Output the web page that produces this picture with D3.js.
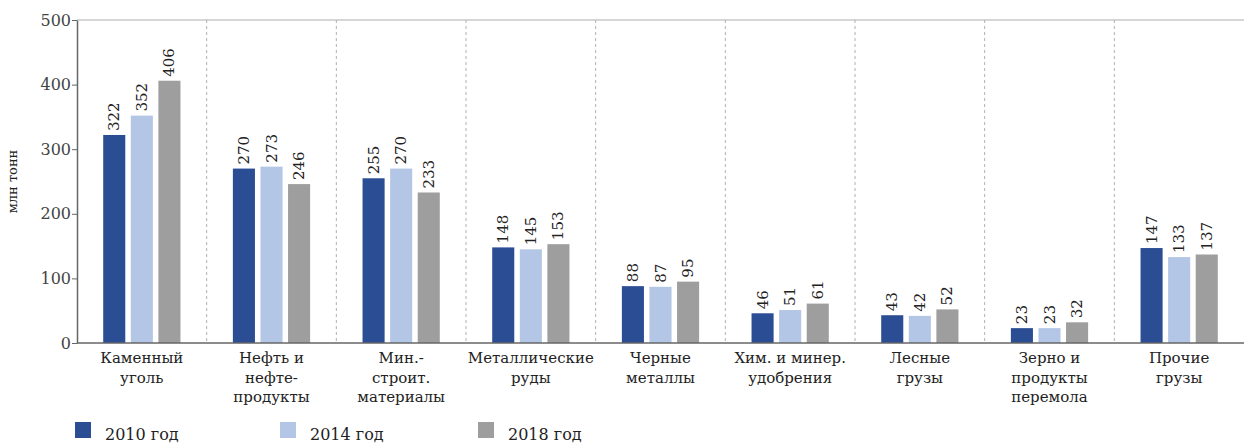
<!DOCTYPE html>
<html>
<head>
<meta charset="utf-8">
<script src="https://cdn.jsdelivr.net/npm/d3@7"></script>
<style>
  body { margin: 0; background: #fff; }
  text { font-family: "DejaVu Serif", "Liberation Serif", serif; }
</style>
</head>
<body>
<div id="chart"></div>
<script>
// categories (multi-line labels) and series
var categories = [
  ["Каменный", "уголь"],
  ["Нефть и", "нефте-", "продукты"],
  ["Мин.-", "строит.", "материалы"],
  ["Металлические", "руды"],
  ["Черные", "металлы"],
  ["Хим. и минер.", "удобрения"],
  ["Лесные", "грузы"],
  ["Зерно и", "продукты", "перемола"],
  ["Прочие", "грузы"]
]
var years = ["2010 год", "2014 год", "2018 год"]
var v2010 = [322, 270, 255, 148, 88, 46, 43, 23, 147]
var v2014 = [352, 273, 270, 145, 87, 51, 42, 23, 133]
var v2018 = [406, 246, 233, 153, 95, 61, 52, 32, 137]
var yTicks = [0, 100, 200, 300, 400, 500]
var colors = ["#2b4d94", "#b3c6e6", "#9e9e9e"]

var series = [v2010, v2014, v2018]
var width = 1244, height = 448
var margin = {left: 77, right: 0, top: 20, bottom: 105}

var svg = d3.select("#chart")
  .append("svg")
    .attr("width", width)
    .attr("height", height)

var x = d3.scaleBand()
  .domain(d3.range(categories.length))
  .range([margin.left, width - margin.right])
  .paddingInner(0)

var x1 = d3.scaleBand()
  .domain(d3.range(years.length))
  .range([0, x.bandwidth()])
  .paddingInner(0.2)
  .paddingOuter(0.95)

var y = d3.scaleLinear()
  .domain([0, 500])
  .range([height - margin.bottom, margin.top])

// top border line
svg.append("line")
  .attr("x1", margin.left).attr("x2", width)
  .attr("y1", y(500)).attr("y2", y(500))
  .attr("stroke", "#c8c8c8").attr("stroke-width", 1.5)

// dashed separators between groups
svg.selectAll("sep")
  .data(d3.range(1, categories.length))
  .enter()
  .append("line")
    .attr("x1", function(d){ return x(d) })
    .attr("x2", function(d){ return x(d) })
    .attr("y1", y(500))
    .attr("y2", y(0))
    .attr("stroke", "#b0b0b0")
    .style("stroke-dasharray", "3,3")

// bars
series.forEach(function(vals, si) {
  svg.selectAll("bar" + si)
    .data(vals)
    .enter()
    .append("rect")
      .attr("x", function(d, i){ return x(i) + x1(si) })
      .attr("y", function(d){ return y(d) })
      .attr("width", x1.bandwidth())
      .attr("height", function(d){ return y(0) - y(d) })
      .style("fill", colors[si])

  svg.selectAll("lab" + si)
    .data(vals)
    .enter()
    .append("text")
      .attr("transform", function(d, i){
        return "translate(" + (x(i) + x1(si) + x1.bandwidth() / 2 + 5) + "," + (y(d) - 4) + ") rotate(-90)"
      })
      .text(function(d){ return d })
      .style("font-size", "15px")
      .style("fill", "#222")
})

// y axis
var yAxis = svg.append("g")
  .attr("transform", "translate(" + margin.left + ",0)")
  .call(d3.axisLeft(y).tickValues(yTicks).tickSize(5).tickSizeOuter(0))
yAxis.select(".domain").attr("stroke", "#666").attr("stroke-width", 1.5)
yAxis.selectAll(".tick line").attr("stroke", "#666")
yAxis.selectAll(".tick text")
  .style("font-size", "16px")
  .style("fill", "#444")
  .attr("x", -6)

// x axis baseline
svg.append("line")
  .attr("x1", margin.left).attr("x2", width)
  .attr("y1", y(0)).attr("y2", y(0))
  .attr("stroke", "#666").attr("stroke-width", 1.5)

// category labels
categories.forEach(function(lines, i) {
  var t = svg.append("text")
    .attr("x", x(i) + x.bandwidth() / 2)
    .attr("y", y(0) + 20)
    .attr("text-anchor", "middle")
    .style("font-size", "15px")
    .style("fill", "#222")
  lines.forEach(function(l, j) {
    t.append("tspan")
      .attr("x", x(i) + x.bandwidth() / 2)
      .attr("dy", j === 0 ? 0 : 19.5)
      .text(l)
  })
})

// y axis title
svg.append("text")
  .attr("transform", "translate(17," + y(250) + ") rotate(-90)")
  .attr("text-anchor", "middle")
  .style("font-size", "13px")
  .style("fill", "#222")
  .text("млн тонн")

// legend
var legendX = [75, 280, 478]
years.forEach(function(yr, i) {
  svg.append("rect")
    .attr("x", legendX[i]).attr("y", 422)
    .attr("width", 16).attr("height", 16)
    .style("fill", colors[i])
  svg.append("text")
    .attr("x", legendX[i] + 30).attr("y", 440)
    .text(yr)
    .style("font-size", "16px")
    .style("fill", "#222")
})
</script>
</body>
</html>
